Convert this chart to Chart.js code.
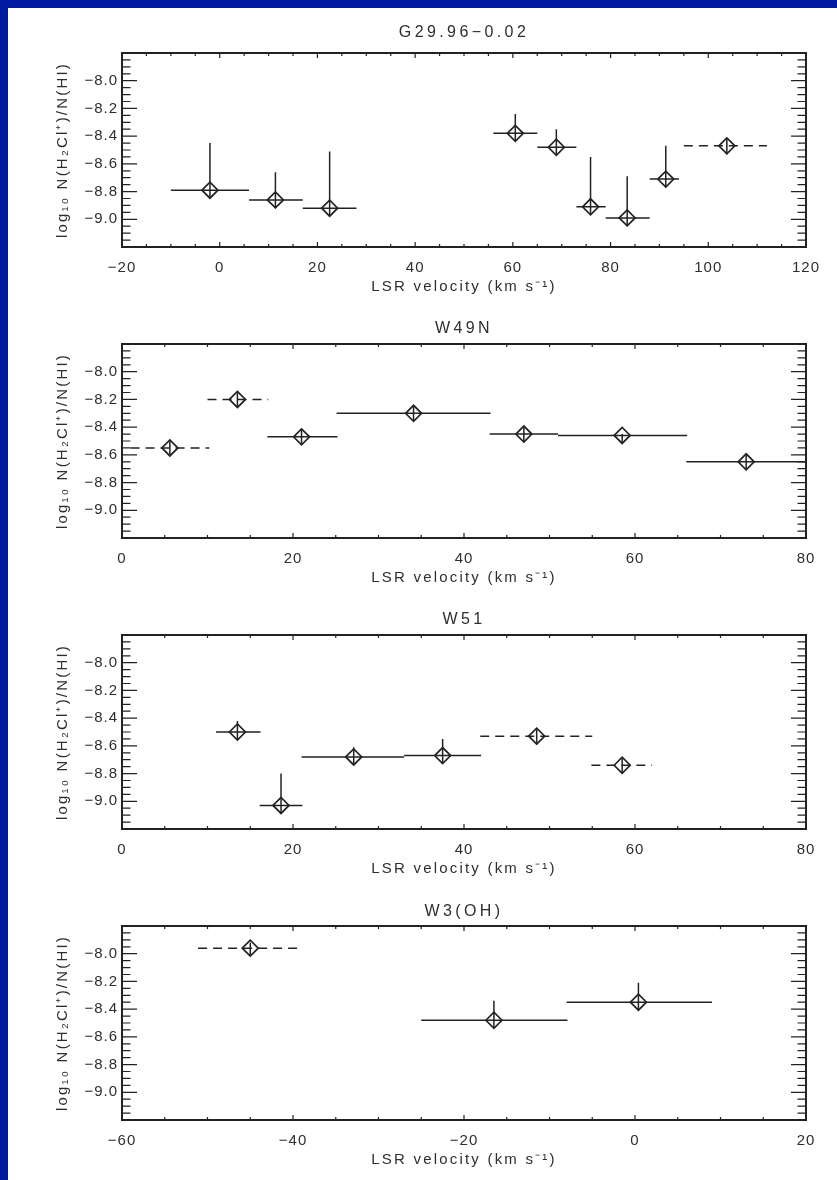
<!DOCTYPE html>
<html>
<head>
<meta charset="utf-8">
<script src="https://cdn.jsdelivr.net/npm/chart.js@4.4.0/dist/chart.umd.min.js"></script>
<style>
  html, body { margin: 0; padding: 0; background: #001aa0; }
  #sheet { position: absolute; left: 8px; top: 8px; width: 829px; height: 1172px; background: #fff; }
  canvas { display: block; }
</style>
</head>
<body>
<div id="sheet">
  <canvas id="g29" width="829" height="291"></canvas>
  <canvas id="w49n" width="829" height="291"></canvas>
  <canvas id="w51" width="829" height="291"></canvas>
  <canvas id="w3oh" width="829" height="291"></canvas>
</div>
<script>
// G29.96-0.02
const g29Vel = [-2.0, 11.4, 22.5, 60.5, 68.9, 75.9, 83.4, 91.3, 103.8];
const g29Val = [-8.79, -8.86, -8.92, -8.38, -8.48, -8.91, -8.99, -8.71, -8.47];
const g29VelLo = [-10, 6, 17, 56, 65, 73, 79, 88, 95];
const g29VelHi = [6, 17, 28, 65, 73, 79, 88, 94, 112];
const g29ErrLo = [-8.85, -8.92, -8.97, -8.43, -8.54, -8.96, -9.05, -8.77, -8.53];
const g29ErrHi = [-8.45, -8.66, -8.51, -8.24, -8.35, -8.55, -8.69, -8.47, -8.42];
const g29Dashed = [false, false, false, false, false, false, false, false, true];
const g29Ticks = [-20, 0, 20, 40, 60, 80, 100, 120];

// W49N
const w49Vel = [5.6, 13.5, 21.0, 34.1, 47.0, 58.5, 73.0];
const w49Val = [-8.55, -8.20, -8.47, -8.30, -8.45, -8.46, -8.65];
const w49VelLo = [1.0, 10.0, 17.0, 25.1, 43.0, 51.0, 66.0];
const w49VelHi = [10.2, 17.1, 25.2, 43.1, 51.0, 66.1, 80.0];
const w49ErrLo = [-8.60, -8.25, -8.52, -8.35, -8.50, -8.51, -8.70];
const w49ErrHi = [-8.50, -8.15, -8.42, -8.25, -8.40, -8.45, -8.60];
const w49Dashed = [true, true, false, false, false, false, false];
const w49Ticks = [0, 20, 40, 60, 80];

// W51
const w51Vel = [13.5, 18.6, 27.1, 37.5, 48.5, 58.5];
const w51Val = [-8.50, -9.03, -8.68, -8.67, -8.53, -8.74];
const w51VelLo = [11.0, 16.1, 21.0, 33.0, 41.9, 54.9];
const w51VelHi = [16.2, 21.1, 33.0, 42.0, 55.0, 62.0];
const w51ErrLo = [-8.56, -9.09, -8.74, -8.72, -8.59, -8.80];
const w51ErrHi = [-8.42, -8.80, -8.61, -8.55, -8.48, -8.69];
const w51Dashed = [false, false, false, false, true, true];
const w51Ticks = [0, 20, 40, 60, 80];

// W3(OH)
const w3Vel = [-45.0, -16.5, 0.4];
const w3Val = [-7.96, -8.48, -8.35];
const w3VelLo = [-51.1, -25.0, -8.0];
const w3VelHi = [-39.0, -7.9, 9.0];
const w3ErrLo = [-8.01, -8.53, -8.40];
const w3ErrHi = [-7.92, -8.34, -8.21];
const w3Dashed = [true, false, false];
const w3Ticks = [-60, -40, -20, 0, 20];

const yTicks = [-9.0, -8.8, -8.6, -8.4, -8.2, -8.0];
const Y_MIN = -9.2, Y_MAX = -7.8;

const INK = "#222";
const TEXT = "#2e2e2e";
const FONT = "'Liberation Sans', Arial, sans-serif";

const minus = (s) => s.replace("-", "\u2212");

// wider letter spacing, the way the original plot's font looks
function spaceText(ctx) {
  const fill = ctx.fillText;
  ctx.fillText = function (text, x, y, maxWidth) {
    if (/^[\u2212\d.]+$/.test(text)) this.letterSpacing = "1px";
    else if (this.font.indexOf("16px") >= 0) this.letterSpacing = "3.4px";
    else this.letterSpacing = "2.2px";
    return maxWidth === undefined ? fill.call(this, text, x, y) : fill.call(this, text, x, y, maxWidth);
  };
}

// frame plus inward ticks on all four sides
const frameTicks = {
  id: "frameTicks",
  afterDatasetsDraw(chart) {
    const { ctx, chartArea: a, scales: { x, y } } = chart;
    ctx.save();
    ctx.strokeStyle = INK;
    ctx.lineWidth = 1.2;
    ctx.beginPath();
    const nx = Math.round((x.max - x.min) / 5);
    for (let i = 0; i <= nx; i++) {
      const px = x.getPixelForValue(x.min + i * 5);
      const len = i % 4 === 0 ? 5 : 3;
      ctx.moveTo(px, a.bottom); ctx.lineTo(px, a.bottom - len);
      ctx.moveTo(px, a.top); ctx.lineTo(px, a.top + len);
    }
    const ny = Math.round((y.max - y.min) / 0.05);
    for (let i = 0; i <= ny; i++) {
      const py = y.getPixelForValue(y.min + i * 0.05);
      const len = i % 4 === 0 ? 15 : 8.5;
      ctx.moveTo(a.left, py); ctx.lineTo(a.left + len, py);
      ctx.moveTo(a.right, py); ctx.lineTo(a.right - len, py);
    }
    ctx.stroke();
    ctx.lineWidth = 2;
    ctx.strokeRect(a.left, a.top, a.right - a.left, a.bottom - a.top);
    ctx.restore();
  }
};

function hBars(vel, val, lo, hi, dashed, wantDashed) {
  const pts = [];
  vel.forEach((v, i) => {
    if (dashed[i] !== wantDashed) return;
    pts.push({ x: lo[i], y: val[i] }, { x: hi[i], y: val[i] }, { x: hi[i], y: null });
  });
  return pts;
}

function vBars(vel, errLo, errHi) {
  const pts = [];
  vel.forEach((v, i) => {
    pts.push({ x: v, y: errLo[i] }, { x: v, y: errHi[i] }, { x: v, y: null });
  });
  return pts;
}

function makePanel(id, name, vel, val, lo, hi, errLo, errHi, dashed, xTicks, titlePad) {
  const canvas = document.getElementById(id);
  spaceText(canvas.getContext("2d"));
  const lineSet = { pointRadius: 0, borderWidth: 1.5, borderColor: INK, tension: 0, spanGaps: false, fill: false };
  const xMin = xTicks[0], xMax = xTicks[xTicks.length - 1];
  new Chart(canvas, {
    type: "line",
    data: {
      datasets: [
        {
          data: vel.map((v, i) => ({ x: v, y: val[i] })),
          showLine: false,
          pointStyle: "rectRot",
          pointRadius: 8,
          pointBorderWidth: 1.7,
          pointBorderColor: INK,
          pointBackgroundColor: "rgba(0,0,0,0)",
        },
        { ...lineSet, data: hBars(vel, val, lo, hi, dashed, false) },
        { ...lineSet, data: hBars(vel, val, lo, hi, dashed, true), borderDash: [9, 6] },
        { ...lineSet, data: vBars(vel, errLo, errHi) },
      ],
    },
    options: {
      responsive: false,
      animation: false,
      events: [],
      layout: { padding: { left: 0, right: 31, top: 0, bottom: 0 } },
      plugins: { legend: { display: false }, tooltip: { enabled: false }, title: { display: false } },
      scales: {
        x: {
          type: "linear",
          position: "bottom",
          min: xMin,
          max: xMax,
          afterBuildTicks: (s) => { s.ticks = xTicks.map((value) => ({ value })); },
          afterFit: (s) => { s.height = 52; },
          grid: { display: false, drawTicks: false },
          border: { display: false },
          ticks: {
            padding: 12,
            color: TEXT,
            font: { family: FONT, size: 15 },
            maxRotation: 0,
            callback: (v) => minus(String(v)),
          },
          title: {
            display: true,
            text: "LSR velocity (km s\u207B\u00B9)",
            color: TEXT,
            font: { family: FONT, size: 15 },
            padding: { top: 0, bottom: 3 },
          },
        },
        xTop: {
          type: "linear",
          position: "top",
          min: xMin,
          max: xMax,
          afterFit: (s) => { s.height = 45; },
          grid: { display: false, drawTicks: false },
          border: { display: false },
          ticks: { display: false },
          title: {
            display: true,
            text: name,
            color: TEXT,
            font: { family: FONT, size: 16 },
            padding: { top: titlePad, bottom: 0 },
          },
        },
        y: {
          type: "linear",
          min: Y_MIN,
          max: Y_MAX,
          afterBuildTicks: (s) => { s.ticks = yTicks.map((value) => ({ value })); },
          afterFit: (s) => { s.width = 114; },
          grid: { display: false, drawTicks: false },
          border: { display: false },
          ticks: {
            padding: 4,
            color: TEXT,
            font: { family: FONT, size: 15 },
            callback: (v) => minus(v.toFixed(1)),
          },
          title: {
            display: true,
            text: "log\u2081\u2080 N(H\u2082Cl\u207A)/N(HI)",
            color: TEXT,
            font: { family: FONT, size: 15 },
            padding: { top: 46, bottom: 0 },
          },
        },
      },
    },
    plugins: [frameTicks],
  });
}

makePanel("g29", "G29.96\u22120.02", g29Vel, g29Val, g29VelLo, g29VelHi, g29ErrLo, g29ErrHi, g29Dashed, g29Ticks, 15);
makePanel("w49n", "W49N", w49Vel, w49Val, w49VelLo, w49VelHi, w49ErrLo, w49ErrHi, w49Dashed, w49Ticks, 20);
makePanel("w51", "W51", w51Vel, w51Val, w51VelLo, w51VelHi, w51ErrLo, w51ErrHi, w51Dashed, w51Ticks, 20);
makePanel("w3oh", "W3(OH)", w3Vel, w3Val, w3VelLo, w3VelHi, w3ErrLo, w3ErrHi, w3Dashed, w3Ticks, 21);
</script>
</body>
</html>
